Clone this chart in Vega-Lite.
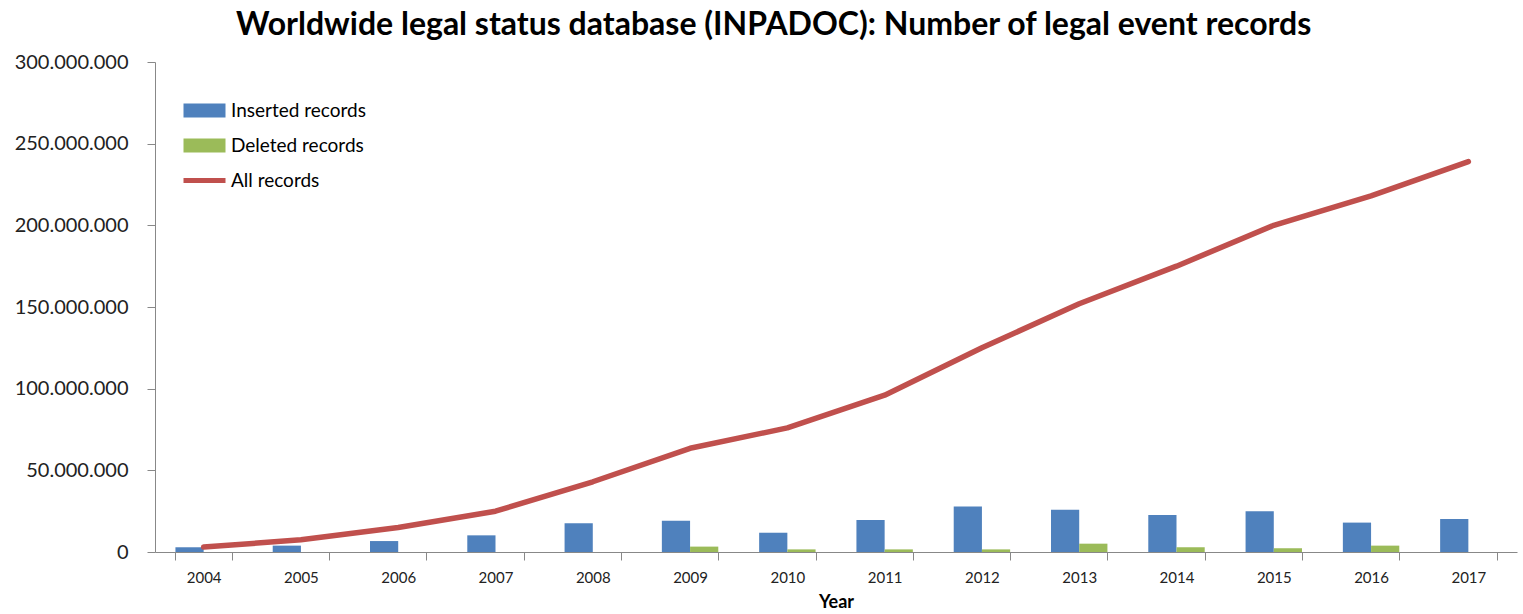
{
  "$schema": "https://vega.github.io/schema/vega-lite/v6.json",
  "autosize": "none",
  "width": 1362,
  "height": 490,
  "padding": {"left": 155, "top": 62, "right": 6, "bottom": 62},
  "background": "white",
  "title": {
    "text": "Worldwide legal status database (INPADOC): Number of legal event records",
    "font": "Lato",
    "fontSize": 32,
    "fontWeight": "bold",
    "color": "#000000",
    "anchor": "start",
    "frame": "group",
    "dx": 81,
    "offset": 10
  },
  "config": {
    "view": {"stroke": null},
    "font": "Lato"
  },
  "datasets": {
    "bars": [
      {"year": "2004", "series": "Inserted records", "value": 2900000},
      {"year": "2005", "series": "Inserted records", "value": 3900000},
      {"year": "2006", "series": "Inserted records", "value": 6700000},
      {"year": "2007", "series": "Inserted records", "value": 10200000},
      {"year": "2008", "series": "Inserted records", "value": 17600000},
      {"year": "2009", "series": "Inserted records", "value": 19200000},
      {"year": "2010", "series": "Inserted records", "value": 11800000},
      {"year": "2011", "series": "Inserted records", "value": 19600000},
      {"year": "2012", "series": "Inserted records", "value": 27800000},
      {"year": "2013", "series": "Inserted records", "value": 25900000},
      {"year": "2014", "series": "Inserted records", "value": 22700000},
      {"year": "2015", "series": "Inserted records", "value": 24900000},
      {"year": "2016", "series": "Inserted records", "value": 18000000},
      {"year": "2017", "series": "Inserted records", "value": 20200000},
      {"year": "2004", "series": "Deleted records", "value": 0},
      {"year": "2005", "series": "Deleted records", "value": 0},
      {"year": "2006", "series": "Deleted records", "value": 0},
      {"year": "2007", "series": "Deleted records", "value": 0},
      {"year": "2008", "series": "Deleted records", "value": 0},
      {"year": "2009", "series": "Deleted records", "value": 3300000},
      {"year": "2010", "series": "Deleted records", "value": 1600000},
      {"year": "2011", "series": "Deleted records", "value": 1600000},
      {"year": "2012", "series": "Deleted records", "value": 1600000},
      {"year": "2013", "series": "Deleted records", "value": 5100000},
      {"year": "2014", "series": "Deleted records", "value": 2900000},
      {"year": "2015", "series": "Deleted records", "value": 2300000},
      {"year": "2016", "series": "Deleted records", "value": 3900000},
      {"year": "2017", "series": "Deleted records", "value": 0}
    ],
    "line": [
      {"year": "2004", "series": "All records", "value": 3000000},
      {"year": "2005", "series": "All records", "value": 7500000},
      {"year": "2006", "series": "All records", "value": 15000000},
      {"year": "2007", "series": "All records", "value": 25000000},
      {"year": "2008", "series": "All records", "value": 43000000},
      {"year": "2009", "series": "All records", "value": 63500000},
      {"year": "2010", "series": "All records", "value": 76000000},
      {"year": "2011", "series": "All records", "value": 96000000},
      {"year": "2012", "series": "All records", "value": 125000000},
      {"year": "2013", "series": "All records", "value": 152000000},
      {"year": "2014", "series": "All records", "value": 175000000},
      {"year": "2015", "series": "All records", "value": 200000000},
      {"year": "2016", "series": "All records", "value": 218000000},
      {"year": "2017", "series": "All records", "value": 239000000}
    ]
  },
  "encoding": {
    "x": {
      "field": "year",
      "type": "nominal",
      "scale": {"paddingInner": 0.42, "paddingOuter": 0.21},
      "axis": {
        "title": "Year",
        "titleFont": "Lato",
        "titleFontSize": 18,
        "titleFontWeight": "bold",
        "titleColor": "#000000",
        "titlePadding": 8,
        "labelAngle": 0,
        "labelFont": "Lato",
        "labelFontSize": 15,
        "labelColor": "#222222",
        "labelPadding": 10,
        "tickBand": "extent",
        "tickSize": 8,
        "tickColor": "#888888",
        "domainColor": "#888888",
        "grid": false
      }
    },
    "y": {
      "field": "value",
      "type": "quantitative",
      "scale": {"domain": [0, 300000000]},
      "axis": {
        "title": null,
        "values": [0, 50000000, 100000000, 150000000, 200000000, 250000000, 300000000],
        "labelExpr": "replace(replace(format(datum.value, ','), ',', '.'), ',', '.')",
        "labelFont": "Lato",
        "labelFontSize": 20,
        "labelColor": "#222222",
        "labelPadding": 19,
        "tickSize": 8,
        "tickColor": "#888888",
        "domainColor": "#888888",
        "grid": false
      }
    },
    "color": {
      "field": "series",
      "type": "nominal",
      "scale": {
        "domain": ["Inserted records", "Deleted records", "All records"],
        "range": ["#4F81BD", "#9BBB59", "#C0504D"]
      },
      "legend": {
        "title": null,
        "orient": "none",
        "legendX": 26,
        "legendY": 39,
        "padding": 0,
        "labelFont": "Lato",
        "labelFontSize": 19,
        "labelColor": "#000000",
        "labelOffset": 31,
        "rowPadding": 15,
        "symbolSize": 196,
        "encode": {
          "symbols": {
            "update": {
              "shape": {"signal": "datum.value === 'All records' ? 'M-1,-0.37h6v0.74h-6z' : 'M-1,-1h6v2h-6z'"},
              "fill": {"signal": "datum.value === 'All records' ? '#C0504D' : (datum.value === 'Deleted records' ? '#9BBB59' : '#4F81BD')"},
              "stroke": {"value": "transparent"},
              "strokeWidth": {"value": 0},
              "opacity": {"value": 1}
            }
          }
        }
      }
    }
  },
  "layer": [
    {
      "data": {"name": "bars"},
      "mark": {"type": "bar"},
      "encoding": {
        "xOffset": {
          "field": "series",
          "type": "nominal",
          "scale": {"domain": ["Inserted records", "Deleted records"], "paddingInner": 0, "paddingOuter": 0}
        }
      }
    },
    {
      "data": {"name": "line"},
      "mark": {"type": "line", "strokeWidth": 5.5, "strokeCap": "round", "strokeJoin": "round"},
      "encoding": {}
    }
  ]
}
